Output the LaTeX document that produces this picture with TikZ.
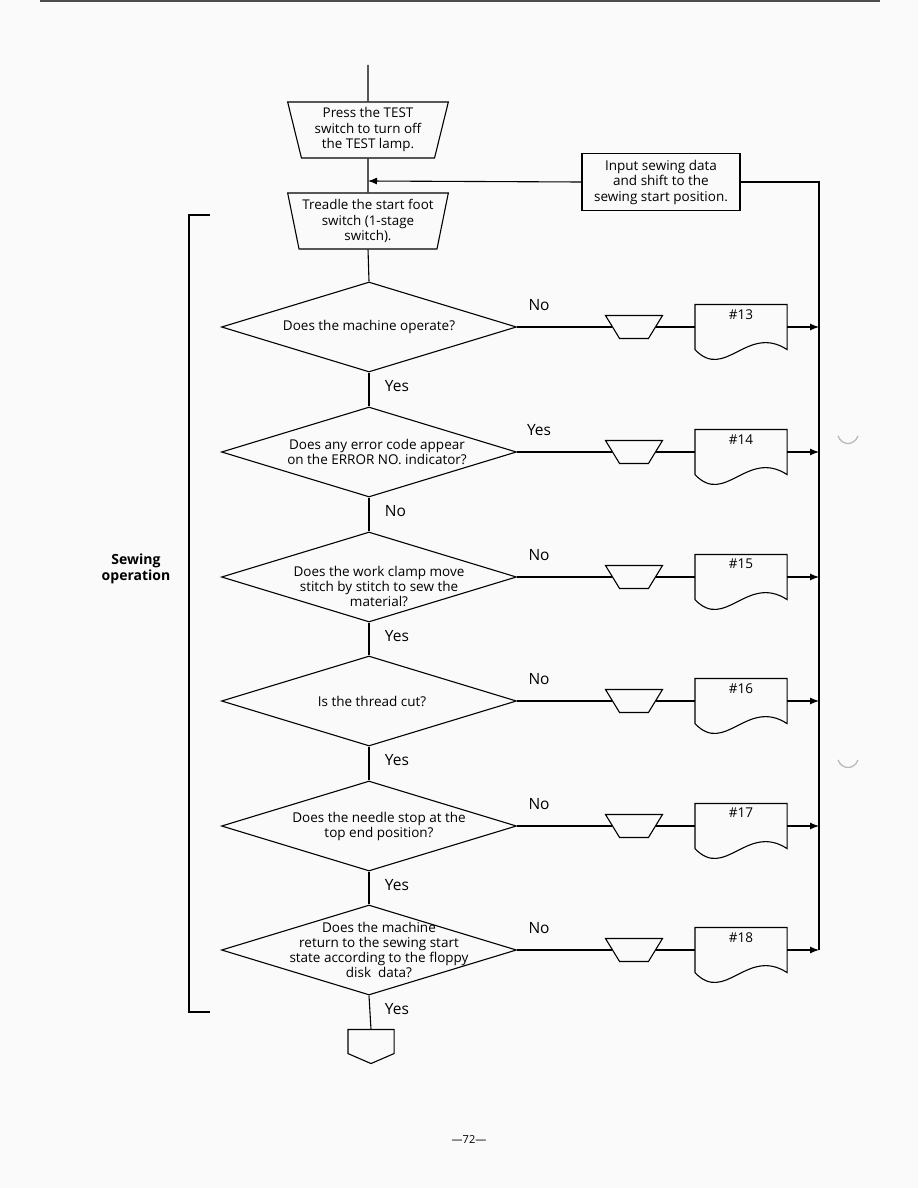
\documentclass[tikz,border=0pt]{standalone}
\usepackage{fontspec}
\setmainfont{Open Sans}
\usetikzlibrary{calc, positioning, arrows.meta, shapes.geometric}

\begin{document}
\begin{tikzpicture}[
        x=1pt, y=-1pt,
        font=\fontsize{13.5}{15}\selectfont,
        line width=1.1pt,
        >={Latex[length=9pt,width=7pt]},
        % Styles
        manual/.style={trapezium, shape border rotate=180, trapezium stretches=true, draw,
            trapezium left angle=76, trapezium right angle=76,
            minimum width=161, minimum height=56, inner sep=0pt, align=center,
            font=\fontsize{13.4}{15.5}\selectfont},
        prep/.style={trapezium, shape border rotate=180, trapezium stretches=true, draw,
            trapezium left angle=64, trapezium right angle=64,
            minimum width=57, minimum height=23, inner sep=1pt},
        decision/.style={diamond, draw, minimum width=295, minimum height=90, inner sep=1pt},
        process/.style={rectangle, draw, minimum width=158, minimum height=57, align=center,
            font=\fontsize{13.5}{15.5}\selectfont},
        docbox/.style={rectangle, minimum width=91, minimum height=44, inner sep=4pt},
        answer/.style={font=\fontsize{15.5}{18}\selectfont},
        punch/.style={gray!55, line width=1.3pt}
    ]
    % page
    \fill[gray!4] (0,0) rectangle (918,1188);
    \useasboundingbox (0,0) rectangle (918,1188);
    \draw[line width=2pt, black!70] (40,1.5) -- (880,1.5);

    % 1. START
    \coordinate (start) at (368,65);
    \node[manual] (test) at (368,130) {Press the TEST\\switch to turn off\\the TEST lamp.};
    \node[manual] (treadle) at (368,221) {Treadle the start foot\\switch (1-stage\\switch).};
    \coordinate (join) at (368,181);
    \draw (start) -- (test.north);
    \draw (test.south) -- (treadle.north);

    % 2. RETURN PATH
    \node[process] (input) at (661,182) {Input sewing data\\and shift to the\\sewing start position.};
    \draw[->] (input.west) -- (join);

    % 3. CHECKS
    \foreach \i/\y/\side/\down/\dx/\dy/\num/\txt in {
        1/327/No/Yes/0/0/13/{Does the machine operate?},
        2/452/Yes/No/8/0/14/{Does any error code appear\\on the ERROR NO. indicator?},
        3/577/No/Yes/10/-9/15/{Does the work clamp move\\stitch by stitch to sew the\\material?},
        4/701/No/Yes/3/0/16/{Is the thread cut?},
        5/826/No/Yes/10/0/17/{Does the needle stop at the\\top end position?},
        6/950/No/Yes/10/0/18/{Does the machine\\return to the sewing start\\state according to the floppy\\disk\ \ data?}} {
        \node[decision, label={[align=center, xshift=\dx, yshift=\dy]center:{\txt}}] (d\i) at (369,\y) {};
        \node[answer] (side\i) at ($(d\i.east)+(22,-22)$) {\side};
        \node[answer, anchor=west] (down\i) at ($(d\i.south)+(12,13)$) {\down};
        \node[prep] (p\i) at (634,\y) {};
        \node[docbox, label={[anchor=north, yshift=-1pt]north:\#\num}] (doc\i) at (741,\y) {};
        \draw (doc\i.south west) -- (doc\i.north west) -- (doc\i.north east) -- (doc\i.south east)
            .. controls +(-40,-26) and +(30,32) .. (doc\i.south west);
        \coordinate (bus\i) at (819,\y);
        \draw (d\i.east) -- (p\i);
        \draw (p\i) -- (doc\i.west);
        \draw[->] (doc\i.east) -- (bus\i);
    }
    \foreach \i/\j in {1/2, 2/3, 3/4, 4/5, 5/6}
        \draw (d\i.south) -- (d\j.north);
    \draw (treadle.south) -- (d1.north);
    \draw (input.east) -| (bus6);

    % 4. OFF-PAGE CONNECTOR
    \node[rectangle, minimum width=45, minimum height=23, inner sep=0pt] (off) at (371,1041.5) {};
    \draw (off.north west) -- (off.north east) -- (off.south east) -- ($(off.south)+(0,10)$)
        -- (off.south west) -- cycle;
    \draw (d6.south) -- (off.north);

    % 5. BRACKET
    \draw (210,215) -- (189,215) -- (189,1012) -- (210,1012);
    \node[align=center, font=\fontsize{14}{16}\selectfont\bfseries] (sewop) at (136,569) {Sewing\\operation};

    % punch marks and page number
    \draw[punch] (838,436) .. controls (842,446) and (854,446) .. (858,436);
    \draw[punch] (838,760) .. controls (842,770) and (854,770) .. (858,760);
    \node[font=\fontsize{11}{13}\selectfont] (pageno) at (469,1140) {—72—};
\end{tikzpicture}
\end{document}
